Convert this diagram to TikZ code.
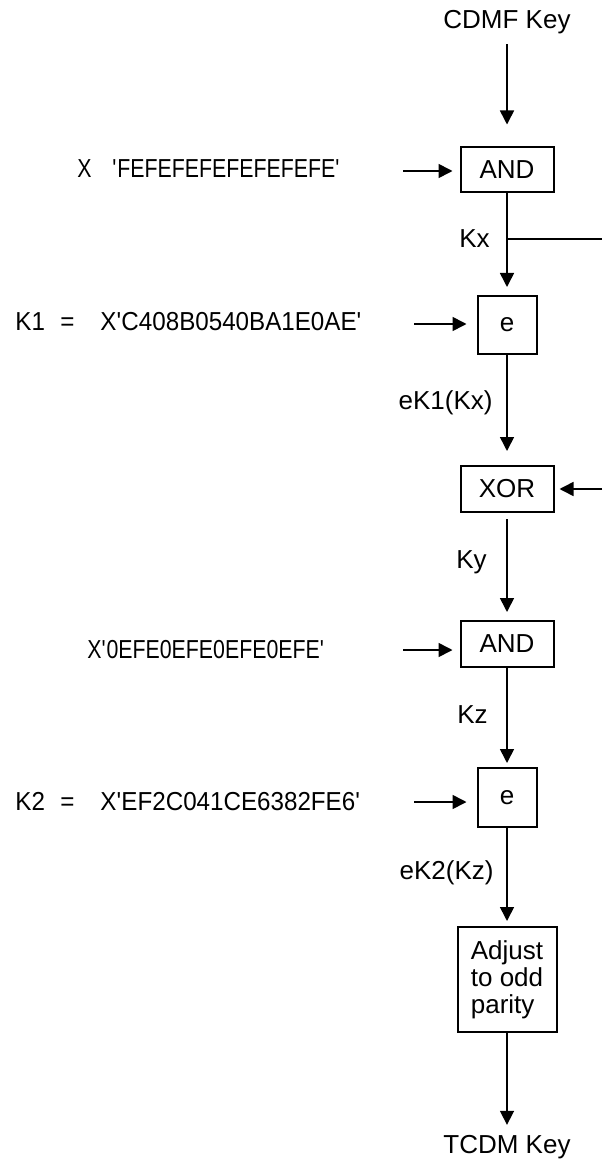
\documentclass[tikz,border=0pt]{standalone}
\usepackage{fontspec}
\setmainfont{Liberation Sans}
\newfontfamily\hexfont[FakeStretch=0.82]{Liberation Sans}
\newfontfamily\keyfont[FakeStretch=0.93]{Liberation Sans}
\usetikzlibrary{arrows.meta}

\tikzset{
  op/.style={draw, line width=1pt, inner sep=0pt, minimum height=23pt,
    font=\fontsize{13}{13.5}\selectfont},
  lbl/.style={inner sep=0pt, font=\fontsize{13}{13.5}\selectfont},
  hex/.style={inner sep=0pt, anchor=west, font=\fontsize{13}{13.5}\selectfont\hexfont},
  keyval/.style={inner sep=0pt, anchor=west, font=\fontsize{13}{13.5}\selectfont\keyfont},
  flow/.style={line width=0.8pt, -{Triangle[length=7pt,width=7pt]}},
}

\begin{document}
\begin{tikzpicture}[x=0.5pt,y=-0.5pt]
  \useasboundingbox (0,0) rectangle (602,1160);
  % main column
  \node[lbl] (cdmf) at (507,22) {CDMF Key};
  \node[op, minimum width=46.5pt, minimum height=22.5pt] (and1) at (507,170) {AND};
  \node[op, minimum width=29.5pt, minimum height=29pt] (e1) at (507,325) {e};
  \node[op, minimum width=46.5pt] (xor) at (507,489) {XOR};
  \node[op, minimum width=46.5pt] (and2) at (507,644) {AND};
  \node[op, minimum width=29.5pt, minimum height=29.5pt] (e2) at (507,797.5) {e};
  \node[op, minimum width=49.5pt, minimum height=52.5pt, align=left] (adj) at (507,979.5)
    {Adjust\\to odd\\parity};
  \node[lbl] (tcdm) at (507,1147) {TCDM Key};

  % inputs on the left
  \node[hex] (mask1) at (77,169) {\makebox[17.5pt][l]{X}\textquotesingle FEFEFEFEFEFEFEFE\textquotesingle};
  \node[keyval] (k1) at (15,322) {\makebox[22.5pt][l]{K1}\makebox[20pt][l]{=}X\textquotesingle C408B0540BA1E0AE\textquotesingle};
  \node[hex] (mask2) at (87,650) {X\textquotesingle 0EFE0EFE0EFE0EFE\textquotesingle};
  \node[keyval] (k2) at (15,802) {\makebox[22.5pt][l]{K2}\makebox[20pt][l]{=}X\textquotesingle EF2C041CE6382FE6\textquotesingle};

  % intermediate values
  \node[lbl, anchor=east] (kx) at (490,239) {Kx};
  \node[lbl, anchor=east] (ek1) at (493,403) {eK1(Kx)};
  \node[lbl, anchor=east] (ky) at (487,562) {Ky};
  \node[lbl, anchor=east] (kz) at (488,715) {Kz};
  \node[lbl, anchor=east] (ek2) at (494,873) {eK2(Kz)};

  \coordinate (fein) at (403,171);
  \coordinate (k1in) at (414,324);
  \coordinate (zeroin) at (403,650);
  \coordinate (k2in) at (414,802);
  \coordinate (split) at (507,239);
  \coordinate (splitout) at (602,239);
  \coordinate (xorin) at (602,489);

  % connectors
  \draw[flow, shorten <=5pt, shorten >=11pt] (cdmf) -- (and1);
  \draw[flow, shorten >=4pt] (and1) -- (e1);
  \draw[line width=0.8pt] (split) -- (splitout);
  \draw[flow, shorten >=7pt] (e1) -- (xor);
  \draw[flow, shorten <=3pt, shorten >=4pt] (xor) -- (and2);
  \draw[flow, shorten >=2pt] (and2) -- (e2);
  \draw[flow, shorten >=2.5pt] (e2) -- (adj);
  \draw[flow, shorten >=5pt] (adj) -- (tcdm);

  \draw[flow, shorten >=3.5pt] (fein) -- (fein -| and1.west);
  \draw[flow, shorten >=5pt] (k1in) -- (k1in -| e1.west);
  \draw[flow, shorten >=3.5pt] (zeroin) -- (zeroin -| and2.west);
  \draw[flow, shorten >=5pt] (k2in) -- (k2in -| e2.west);
  \draw[flow, shorten >=2.5pt] (xorin) -- (xor.east);
\end{tikzpicture}
\end{document}
